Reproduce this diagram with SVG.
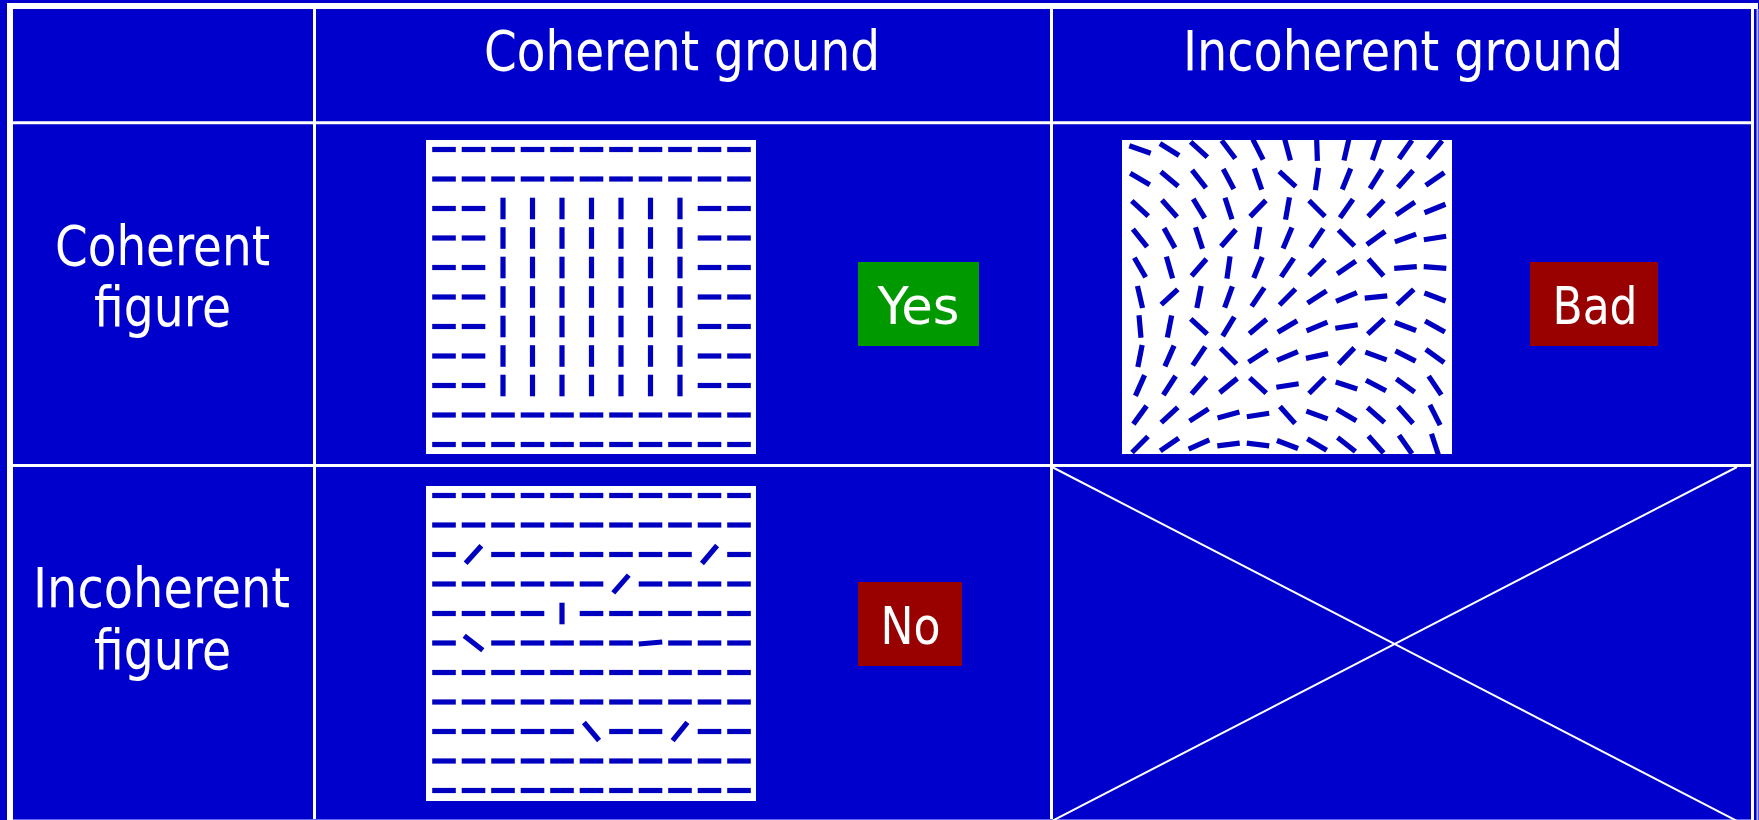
<svg xmlns="http://www.w3.org/2000/svg" xmlns:xlink="http://www.w3.org/1999/xlink" width="1759" height="820" viewBox="0 0 1759 820">
<style>
.grid{stroke:#ffffff;fill:none}
.dsh{stroke:#0000c0;stroke-width:5.2;stroke-linecap:butt}
.txt{fill:#ffffff;font-family:'DejaVu Sans Condensed','DejaVu Sans',Verdana,sans-serif;font-stretch:condensed}
.hd{font-size:56px}
.lb{font-size:52px}
</style>
<defs>
<line id="h" class="dsh" x1="-11.8" y1="0" x2="11.8" y2="0"/>
<line id="v" class="dsh" x1="0" y1="-10.8" x2="0" y2="10.8"/>
<line id="s" class="dsh" x1="-11.3" y1="0" x2="11.3" y2="0"/>
<g id="hrow">
<use href="#h" x="444"/><use href="#h" x="473.5"/><use href="#h" x="503"/><use href="#h" x="532.5"/><use href="#h" x="562"/><use href="#h" x="591.5"/><use href="#h" x="621"/><use href="#h" x="650.5"/><use href="#h" x="680"/><use href="#h" x="709.5"/><use href="#h" x="739"/>
</g>
<g id="mrow">
<use href="#h" x="444"/><use href="#h" x="473.5"/><use href="#v" x="503"/><use href="#v" x="532.5"/><use href="#v" x="562"/><use href="#v" x="591.5"/><use href="#v" x="621"/><use href="#v" x="650.5"/><use href="#v" x="680"/><use href="#h" x="709.5"/><use href="#h" x="739"/>
</g>
</defs>
<rect id="background" x="0" y="0" width="1759" height="820" fill="#0000cc"/>

<g id="table-grid" class="grid">
<line x1="7" y1="6" x2="1758" y2="6" stroke-width="6"/>
<line x1="10" y1="3" x2="10" y2="820" stroke-width="6"/>
<line x1="1752.5" y1="3" x2="1752.5" y2="820" stroke-width="3"/>
<line x1="1757.5" y1="9" x2="1757.5" y2="820" stroke-width="2" stroke="#b8b8ff"/>
<line x1="314.5" y1="9" x2="314.5" y2="820" stroke-width="3"/>
<line x1="1051.5" y1="9" x2="1051.5" y2="820" stroke-width="3"/>
<line x1="13" y1="122.8" x2="1751" y2="122.8" stroke-width="3"/>
<line x1="13" y1="465.5" x2="1751" y2="465.5" stroke-width="3"/>
<line x1="13" y1="819.5" x2="1751" y2="819.5" stroke-width="1" stroke="#6a6aff"/>
</g>

<g id="header-coherent-ground">
<text class="txt hd" x="682" y="70" text-anchor="middle" textLength="396" lengthAdjust="spacingAndGlyphs">Coherent ground</text>
</g>
<g id="header-incoherent-ground">
<text class="txt hd" x="1403" y="70" text-anchor="middle" textLength="440" lengthAdjust="spacingAndGlyphs">Incoherent ground</text>
</g>
<g id="row-coherent-figure">
<text class="txt hd" x="162.5" y="265" text-anchor="middle" textLength="215" lengthAdjust="spacingAndGlyphs">Coherent</text>
<text class="txt hd" x="162.5" y="326" text-anchor="middle" textLength="137" lengthAdjust="spacingAndGlyphs">figure</text>
</g>
<g id="row-incoherent-figure">
<text class="txt hd" x="161.5" y="607" text-anchor="middle" textLength="257" lengthAdjust="spacingAndGlyphs">Incoherent</text>
<text class="txt hd" x="162.5" y="669" text-anchor="middle" textLength="137" lengthAdjust="spacingAndGlyphs">figure</text>
</g>

<g id="image-coherent-figure-coherent-ground">
<rect x="426" y="140" width="330" height="314" fill="#ffffff"/>
<use href="#hrow" y="149.5"/>
<use href="#hrow" y="179"/>
<use href="#mrow" y="208.5"/>
<use href="#mrow" y="238"/>
<use href="#mrow" y="267.5"/>
<use href="#mrow" y="297"/>
<use href="#mrow" y="326.5"/>
<use href="#mrow" y="356"/>
<use href="#mrow" y="385.5"/>
<use href="#hrow" y="415"/>
<use href="#hrow" y="444.5"/>
</g>

<g id="image-coherent-figure-incoherent-ground">
<rect x="1122" y="140" width="330" height="314" fill="#ffffff"/>
<use href="#s" transform="translate(1140,149.5) rotate(19)"/>
<use href="#s" transform="translate(1169.5,149.5) rotate(32)"/>
<use href="#s" transform="translate(1199,149.5) rotate(42)"/>
<use href="#s" transform="translate(1228.5,149.5) rotate(53)"/>
<use href="#s" transform="translate(1258,149.5) rotate(63)"/>
<use href="#s" transform="translate(1287.5,149.5) rotate(75)"/>
<use href="#s" transform="translate(1317,149.5) rotate(88)"/>
<use href="#s" transform="translate(1346.5,149.5) rotate(-77)"/>
<use href="#s" transform="translate(1376,149.5) rotate(-71)"/>
<use href="#s" transform="translate(1405.5,149.5) rotate(-55)"/>
<use href="#s" transform="translate(1435,149.5) rotate(-51)"/>

<use href="#s" transform="translate(1140,179) rotate(30)"/>
<use href="#s" transform="translate(1169.5,179) rotate(40)"/>
<use href="#s" transform="translate(1199,179) rotate(52)"/>
<use href="#s" transform="translate(1228.5,179) rotate(62)"/>
<use href="#s" transform="translate(1258,179) rotate(71)"/>
<use href="#s" transform="translate(1287.5,179) rotate(43)"/>
<use href="#s" transform="translate(1317,179) rotate(-82)"/>
<use href="#s" transform="translate(1346.5,179) rotate(-68)"/>
<use href="#s" transform="translate(1376,179) rotate(-58)"/>
<use href="#s" transform="translate(1405.5,179) rotate(-48)"/>
<use href="#s" transform="translate(1435,179) rotate(-35)"/>

<use href="#s" transform="translate(1140,208.5) rotate(43)"/>
<use href="#s" transform="translate(1169.5,208.5) rotate(48)"/>
<use href="#s" transform="translate(1199,208.5) rotate(59)"/>
<use href="#s" transform="translate(1228.5,208.5) rotate(72)"/>
<use href="#s" transform="translate(1258,208.5) rotate(-46)"/>
<use href="#s" transform="translate(1287.5,208.5) rotate(-80)"/>
<use href="#s" transform="translate(1317,208.5) rotate(45)"/>
<use href="#s" transform="translate(1346.5,208.5) rotate(-55)"/>
<use href="#s" transform="translate(1376,208.5) rotate(-46)"/>
<use href="#s" transform="translate(1405.5,208.5) rotate(-34)"/>
<use href="#s" transform="translate(1435,208.5) rotate(-22)"/>

<use href="#s" transform="translate(1140,238) rotate(51)"/>
<use href="#s" transform="translate(1169.5,238) rotate(61)"/>
<use href="#s" transform="translate(1199,238) rotate(72)"/>
<use href="#s" transform="translate(1228.5,238) rotate(-49)"/>
<use href="#s" transform="translate(1258,238) rotate(-81)"/>
<use href="#s" transform="translate(1287.5,238) rotate(-67)"/>
<use href="#s" transform="translate(1317,238) rotate(-56)"/>
<use href="#s" transform="translate(1346.5,238) rotate(45)"/>
<use href="#s" transform="translate(1376,238) rotate(-36)"/>
<use href="#s" transform="translate(1405.5,238) rotate(-20)"/>
<use href="#s" transform="translate(1435,238) rotate(-9)"/>

<use href="#s" transform="translate(1140,267.5) rotate(60)"/>
<use href="#s" transform="translate(1169.5,267.5) rotate(74)"/>
<use href="#s" transform="translate(1199,267.5) rotate(-49)"/>
<use href="#s" transform="translate(1228.5,267.5) rotate(-82)"/>
<use href="#s" transform="translate(1258,267.5) rotate(-68)"/>
<use href="#s" transform="translate(1287.5,267.5) rotate(-56)"/>
<use href="#s" transform="translate(1317,267.5) rotate(-45)"/>
<use href="#s" transform="translate(1346.5,267.5) rotate(-35)"/>
<use href="#s" transform="translate(1376,267.5) rotate(48)"/>
<use href="#s" transform="translate(1405.5,267.5) rotate(-4)"/>
<use href="#s" transform="translate(1435,267.5) rotate(4)"/>

<use href="#s" transform="translate(1140,297) rotate(77)"/>
<use href="#s" transform="translate(1169.5,297) rotate(-43)"/>
<use href="#s" transform="translate(1199,297) rotate(-79)"/>
<use href="#s" transform="translate(1228.5,297) rotate(-70)"/>
<use href="#s" transform="translate(1258,297) rotate(-56)"/>
<use href="#s" transform="translate(1287.5,297) rotate(-45)"/>
<use href="#s" transform="translate(1317,297) rotate(-33)"/>
<use href="#s" transform="translate(1346.5,297) rotate(-23)"/>
<use href="#s" transform="translate(1376,297) rotate(-6)"/>
<use href="#s" transform="translate(1405.5,297) rotate(-43)"/>
<use href="#s" transform="translate(1435,297) rotate(21)"/>

<use href="#s" transform="translate(1140,326.5) rotate(85)"/>
<use href="#s" transform="translate(1169.5,326.5) rotate(-79)"/>
<use href="#s" transform="translate(1199,326.5) rotate(43)"/>
<use href="#s" transform="translate(1228.5,326.5) rotate(-59)"/>
<use href="#s" transform="translate(1258,326.5) rotate(-40)"/>
<use href="#s" transform="translate(1287.5,326.5) rotate(-31)"/>
<use href="#s" transform="translate(1317,326.5) rotate(-23)"/>
<use href="#s" transform="translate(1346.5,326.5) rotate(-9)"/>
<use href="#s" transform="translate(1376,326.5) rotate(-43)"/>
<use href="#s" transform="translate(1405.5,326.5) rotate(21)"/>
<use href="#s" transform="translate(1435,326.5) rotate(29)"/>

<use href="#s" transform="translate(1140,356) rotate(-79)"/>
<use href="#s" transform="translate(1169.5,356) rotate(-66)"/>
<use href="#s" transform="translate(1199,356) rotate(-56)"/>
<use href="#s" transform="translate(1228.5,356) rotate(45)"/>
<use href="#s" transform="translate(1258,356) rotate(-33)"/>
<use href="#s" transform="translate(1287.5,356) rotate(-23)"/>
<use href="#s" transform="translate(1317,356) rotate(-12)"/>
<use href="#s" transform="translate(1346.5,356) rotate(-46)"/>
<use href="#s" transform="translate(1376,356) rotate(20)"/>
<use href="#s" transform="translate(1405.5,356) rotate(27)"/>
<use href="#s" transform="translate(1435,356) rotate(36)"/>

<use href="#s" transform="translate(1140,385.5) rotate(-66)"/>
<use href="#s" transform="translate(1169.5,385.5) rotate(-57)"/>
<use href="#s" transform="translate(1199,385.5) rotate(-49)"/>
<use href="#s" transform="translate(1228.5,385.5) rotate(-39)"/>
<use href="#s" transform="translate(1258,385.5) rotate(43)"/>
<use href="#s" transform="translate(1287.5,385.5) rotate(-9)"/>
<use href="#s" transform="translate(1317,385.5) rotate(-45)"/>
<use href="#s" transform="translate(1346.5,385.5) rotate(18)"/>
<use href="#s" transform="translate(1376,385.5) rotate(28)"/>
<use href="#s" transform="translate(1405.5,385.5) rotate(36)"/>
<use href="#s" transform="translate(1435,385.5) rotate(56)"/>

<use href="#s" transform="translate(1140,415) rotate(-54)"/>
<use href="#s" transform="translate(1169.5,415) rotate(-43)"/>
<use href="#s" transform="translate(1199,415) rotate(-33)"/>
<use href="#s" transform="translate(1228.5,415) rotate(-15)"/>
<use href="#s" transform="translate(1258,415) rotate(-9)"/>
<use href="#s" transform="translate(1287.5,415) rotate(48)"/>
<use href="#s" transform="translate(1317,415) rotate(20)"/>
<use href="#s" transform="translate(1346.5,415) rotate(30)"/>
<use href="#s" transform="translate(1376,415) rotate(41)"/>
<use href="#s" transform="translate(1405.5,415) rotate(48)"/>
<use href="#s" transform="translate(1435,415) rotate(63)"/>

<use href="#s" transform="translate(1140,444.5) rotate(-45)"/>
<use href="#s" transform="translate(1169.5,444.5) rotate(-35)"/>
<use href="#s" transform="translate(1199,444.5) rotate(-24)"/>
<use href="#s" transform="translate(1228.5,444.5) rotate(-7)"/>
<use href="#s" transform="translate(1258,444.5) rotate(7)"/>
<use href="#s" transform="translate(1287.5,444.5) rotate(21)"/>
<use href="#s" transform="translate(1317,444.5) rotate(31)"/>
<use href="#s" transform="translate(1346.5,444.5) rotate(38)"/>
<use href="#s" transform="translate(1376,444.5) rotate(48)"/>
<use href="#s" transform="translate(1405.5,444.5) rotate(55)"/>
<use href="#s" transform="translate(1435,444.5) rotate(72)"/>
</g>

<g id="image-incoherent-figure-coherent-ground">
<rect x="426" y="486" width="330" height="315" fill="#ffffff"/>
<use href="#hrow" y="495.5"/>
<use href="#hrow" y="525"/>
<g>
<use href="#h" x="444" y="554.5"/><use href="#h" transform="translate(473.5,554.5) rotate(-48)"/><use href="#h" x="503" y="554.5"/><use href="#h" x="532.5" y="554.5"/><use href="#h" x="562" y="554.5"/><use href="#h" x="591.5" y="554.5"/><use href="#h" x="621" y="554.5"/><use href="#h" x="650.5" y="554.5"/><use href="#h" x="680" y="554.5"/><use href="#h" transform="translate(709.5,554.5) rotate(-50)"/><use href="#h" x="739" y="554.5"/>
</g>
<g>
<use href="#h" x="444" y="584"/><use href="#h" x="473.5" y="584"/><use href="#h" x="503" y="584"/><use href="#h" x="532.5" y="584"/><use href="#h" x="562" y="584"/><use href="#h" x="591.5" y="584"/><use href="#h" transform="translate(621,584) rotate(-49)"/><use href="#h" x="650.5" y="584"/><use href="#h" x="680" y="584"/><use href="#h" x="709.5" y="584"/><use href="#h" x="739" y="584"/>
</g>
<g>
<use href="#h" x="444" y="613.5"/><use href="#h" x="473.5" y="613.5"/><use href="#h" x="503" y="613.5"/><use href="#h" x="532.5" y="613.5"/><use href="#v" x="562" y="613.5"/><use href="#h" x="591.5" y="613.5"/><use href="#h" x="621" y="613.5"/><use href="#h" x="650.5" y="613.5"/><use href="#h" x="680" y="613.5"/><use href="#h" x="709.5" y="613.5"/><use href="#h" x="739" y="613.5"/>
</g>
<g>
<use href="#h" x="444" y="643"/><use href="#h" transform="translate(473.5,643) rotate(38)"/><use href="#h" x="503" y="643"/><use href="#h" x="532.5" y="643"/><use href="#h" x="562" y="643"/><use href="#h" x="591.5" y="643"/><use href="#h" x="621" y="643"/><use href="#h" transform="translate(650.5,643) rotate(-5)"/><use href="#h" x="680" y="643"/><use href="#h" x="709.5" y="643"/><use href="#h" x="739" y="643"/>
</g>
<use href="#hrow" y="672.5"/>
<use href="#hrow" y="702"/>
<g>
<use href="#h" x="444" y="731.5"/><use href="#h" x="473.5" y="731.5"/><use href="#h" x="503" y="731.5"/><use href="#h" x="532.5" y="731.5"/><use href="#h" x="562" y="731.5"/><use href="#h" transform="translate(591.5,731.5) rotate(50)"/><use href="#h" x="621" y="731.5"/><use href="#h" x="650.5" y="731.5"/><use href="#h" transform="translate(680,731.5) rotate(-51)"/><use href="#h" x="709.5" y="731.5"/><use href="#h" x="739" y="731.5"/>
</g>
<use href="#hrow" y="761"/>
<use href="#hrow" y="790.5"/>
</g>

<g id="label-yes">
<rect x="858" y="262" width="121" height="84" fill="#009900"/>
<text class="txt lb" x="918.5" y="324" text-anchor="middle" textLength="82" lengthAdjust="spacingAndGlyphs">Yes</text>
</g>
<g id="label-bad">
<rect x="1530" y="262" width="128" height="84" fill="#990000"/>
<text class="txt lb" x="1595" y="324" text-anchor="middle" textLength="85" lengthAdjust="spacingAndGlyphs">Bad</text>
</g>
<g id="label-no">
<rect x="858" y="582" width="104" height="84" fill="#990000"/>
<text class="txt lb" x="910.5" y="644" text-anchor="middle" textLength="60" lengthAdjust="spacingAndGlyphs">No</text>
</g>

<g id="connectors" class="grid" stroke-width="2">
<line x1="1052" y1="467" x2="1737" y2="821"/>
<line x1="1737" y1="467" x2="1052" y2="821"/>
</g>
</svg>
